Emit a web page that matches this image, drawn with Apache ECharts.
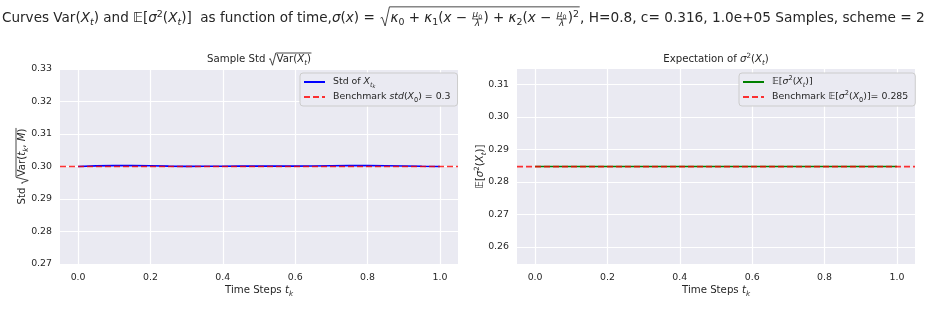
<!DOCTYPE html>
<html><head><meta charset="utf-8">
<script src="https://cdn.jsdelivr.net/npm/echarts@6/dist/echarts.min.js"></script>
<style>html,body{margin:0;padding:0;background:#fff}#c{width:927px;height:309px}</style>
</head><body><div id="c"></div>
<script>
// ---------------- data ----------------
const timeSteps = [0.00,0.05,0.10,0.15,0.20,0.25,0.30,0.35,0.40,0.45,0.50,0.55,0.60,0.65,0.70,0.75,0.80,0.85,0.90,0.95,1.00];
const stdValues = [0.30000,0.30018,0.30028,0.30030,0.30022,0.30012,0.30004,0.30006,0.30010,0.30012,0.30012,0.30011,0.30012,0.30016,0.30022,0.30028,0.30030,0.30024,0.30014,0.30006,0.30000];
const expValues = [0.28468,0.28468,0.28469,0.28469,0.28468,0.28468,0.28468,0.28468,0.28468,0.28469,0.28469,0.28468,0.28468,0.28468,0.28469,0.28469,0.28469,0.28468,0.28468,0.28468,0.28468];
const benchStd = [0.3];
const benchExp = [0.28468];
const xLimits = [-0.05, 1.05];
const xTicks = [0.0, 0.2, 0.4, 0.6, 0.8, 1.0];
const yLimitsLeft = [0.27, 0.33];
const yTicksLeft = [0.27, 0.28, 0.29, 0.30, 0.31, 0.32, 0.33];
const yLimitsRight = [0.2547, 0.3147];
const yTicksRight = [0.26, 0.27, 0.28, 0.29, 0.30, 0.31];
const legendLeft = ['Std of X_tk', 'Benchmark std(X0) = 0.3'];
const legendRight = ['E[sigma2(Xt)]', 'Benchmark E[sigma2(X0)]= 0.285'];

// ---------------- styling helpers ----------------
const TXT = '#262626';
const FAM = '"DejaVu Sans", sans-serif';
const mctx = document.createElement('canvas').getContext('2d');
function fontOf(size, it) { return (it ? 'italic ' : '') + size.toFixed(2) + 'px ' + FAM; }
function measure(t, size, it) { mctx.font = fontOf(size, it); return mctx.measureText(t).width; }
const I = (t) => ({t: t, it: true});
const sub = (t, it) => ({t: t, it: !!it, sc: 0.7, dy: -0.22});
const sup = (t, it) => ({t: t, it: !!it, sc: 0.7, dy: 0.4});

function lay(tokens, S, x0, base, out) {
  let x = x0;
  tokens.forEach(raw => {
    const tk = typeof raw === 'string' ? {t: raw} : raw;
    if (tk.frac) {
      const fs = S * 0.66;
      const nw = lay(tk.frac[0], fs, 0, 0, []);
      const dw = lay(tk.frac[1], fs, 0, 0, []);
      const fw = Math.max(nw, dw) + S * 0.2;
      const axisY = base - 0.3 * S;
      lay(tk.frac[0], fs, x + (fw - nw) / 2, axisY - 0.12 * S, out);
      lay(tk.frac[1], fs, x + (fw - dw) / 2, axisY + 0.12 * S + 0.72 * fs, out);
      out.push({type: 'line', silent: true, shape: {x1: x + S * 0.08, y1: axisY, x2: x + fw - S * 0.08, y2: axisY},
        style: {stroke: TXT, lineWidth: 0.7}});
      x += fw;
    } else if (tk.sqrt) {
      const hasFrac = tk.sqrt.some(t => t && t.frac);
      const top = base - (hasFrac ? 1.2 : 0.98) * S;
      const bot = base + 0.22 * S;
      const rw = 0.78 * S;
      const cw = lay(tk.sqrt, S, x + rw, base, out);
      out.push({type: 'polyline', silent: true, shape: {points: [
          [x + 0.04 * S, base - 0.36 * S], [x + 0.16 * S, base - 0.42 * S], [x + 0.38 * S, bot],
          [x + 0.7 * S, top], [x + rw + cw + 0.05 * S, top]]},
        style: {stroke: TXT, lineWidth: 0.85, fill: null}});
      x += rw + cw;
    } else {
      const sz = S * (tk.sc || 1);
      const b = base - (tk.dy || 0) * S;
      out.push({type: 'text', silent: true, x: x, y: b - 0.32 * sz,
        style: {text: tk.t, font: fontOf(sz, tk.it), fill: TXT, align: 'left', verticalAlign: 'middle',
                textAlign: 'left', textVerticalAlign: 'middle'}});
      x += measure(tk.t, sz, tk.it);
    }
  });
  return x - x0;
}
function textGroup(tokens, S, cx, baseY, rotate) {
  const kids = [];
  const w = lay(tokens, S, 0, 0, []);
  lay(tokens, S, -w / 2, 0, kids);
  return {type: 'group', x: cx, y: baseY, rotation: rotate ? Math.PI / 2 : 0, children: kids, silent: true};
}
// lay a run of tokens so that it fills [x0, x1]
function fitGroup(tokens, x0, x1, baseY) {
  const S = 12 * (x1 - x0) / lay(tokens, 12, 0, 0, []);
  const kids = [];
  lay(tokens, S, 0, 0, kids);
  return {type: 'group', x: x0, y: baseY, children: kids, silent: true};
}

const fracMu = {frac: [[I('μ'), sub('0')], [I('λ')]]};
const titleHead = ['Curves Var(', I('X'), sub('t', true), ') and ', '𝔼', '[', I('σ'), sup('2'), '(', I('X'), sub('t', true),
  ')]  as function of time,', I('σ'), '(', I('x'), ') = '];
const titleRoot = [{sqrt: [I('κ'), sub('0'), ' + ', I('κ'), sub('1'), '(', I('x'), ' − ', fracMu, ') + ', I('κ'), sub('2'), '(', I('x'), ' − ', fracMu, ')', sup('2')]}];
const titleTail = [', H=0.8, c= 0.316, 1.0e+05 Samples, scheme = 2'];
const leftTitle = ['Sample Std ', {sqrt: ['Var(', I('X'), sub('t', true), ')']}];
const rightTitle = ['Expectation of ', I('σ'), sup('2'), '(', I('X'), sub('t', true), ')'];
const leftYName = ['Std ', {sqrt: ['Var(', I('t'), sub('k', true), ', ', I('M'), ')']}];
const rightYName = ['𝔼', '[', I('σ'), sup('2'), '(', I('X'), sub('t', true), ')]'];
const xName = ['Time Steps ', I('t'), sub('k', true)];

const LBL = 9.4, TTL = 10.2;
const legendRich = {
  i: {fontStyle: 'italic', fontSize: LBL, lineHeight: 14, color: TXT, fontFamily: FAM},
  sbi: {fontStyle: 'italic', fontSize: 6.6, lineHeight: 7, verticalAlign: 'bottom', color: TXT, fontFamily: FAM},
  sbu: {fontSize: 6.6, lineHeight: 7, verticalAlign: 'bottom', color: TXT, fontFamily: FAM},
  ssb: {fontStyle: 'italic', fontSize: 5, lineHeight: 4, verticalAlign: 'bottom', color: TXT, fontFamily: FAM},
  sp: {fontSize: 6.6, lineHeight: 8, verticalAlign: 'top', color: TXT, fontFamily: FAM}
};
const legendText = {};
legendText[legendLeft[0]] = 'Std of {i|X}{sbi|t}{ssb|k}';
legendText[legendLeft[1]] = 'Benchmark {i|std}({i|X}{sbu|0}) = 0.3';
legendText[legendRight[0]] = '𝔼[{i|σ}{sp|2}({i|X}{sbi|t})]';
legendText[legendRight[1]] = 'Benchmark 𝔼[{i|σ}{sp|2}({i|X}{sbu|0})]= 0.285';

function xAxisCfg(gi) {
  return {gridIndex: gi, type: 'value', min: xLimits[0], max: xLimits[1],
    axisLine: {show: false}, axisTick: {show: false, customValues: xTicks},
    axisLabel: {customValues: xTicks, formatter: v => v.toFixed(1), color: TXT, fontSize: LBL, fontFamily: FAM, margin: 9},
    splitLine: {show: true, lineStyle: {color: '#ffffff', width: 1.2}}};
}
function yAxisCfg(gi, lim, ticks) {
  return {gridIndex: gi, type: 'value', min: lim[0], max: lim[1],
    axisLine: {show: false}, axisTick: {show: false, customValues: ticks},
    axisLabel: {customValues: ticks, formatter: v => v.toFixed(2), color: TXT, fontSize: LBL, fontFamily: FAM, margin: 8},
    splitLine: {show: true, lineStyle: {color: '#ffffff', width: 1.2}}};
}
function legendCfg(left, names) {
  return {show: true, orient: 'vertical', left: left, top: 73, data: names,
    formatter: n => legendText[n], itemWidth: 21, itemHeight: 10, itemGap: 1,
    itemStyle: {opacity: 0},
    padding: [2, 7, 2, 3], backgroundColor: '#EAEAF2', borderColor: '#CCCCCC', borderWidth: 1, borderRadius: 3,
    textStyle: {color: TXT, fontSize: LBL, fontFamily: FAM, lineHeight: 14, padding: [0, 0, 0, 3], rich: legendRich}};
}

const chart = echarts.init(document.getElementById('c'), null, {renderer: 'canvas'});
chart.setOption({
  animation: false,
  backgroundColor: '#ffffff',
  grid: [
    {left: 60, top: 69, width: 398, height: 195, show: true, backgroundColor: '#EAEAF2', borderWidth: 0},
    {left: 517, top: 69, width: 398, height: 195, show: true, backgroundColor: '#EAEAF2', borderWidth: 0}
  ],
  xAxis: [xAxisCfg(0), xAxisCfg(1)],
  yAxis: [yAxisCfg(0, yLimitsLeft, yTicksLeft), yAxisCfg(1, yLimitsRight, yTicksRight)],
  legend: [legendCfg(300, legendLeft), legendCfg(739, legendRight)],
  series: [
    {name: legendLeft[0], type: 'line', xAxisIndex: 0, yAxisIndex: 0, symbol: 'none', smooth: false,
      data: timeSteps.map((t, i) => [t, stdValues[i]]), lineStyle: {color: '#0000ff', width: 1.6}, itemStyle: {color: '#0000ff'}},
    {name: legendLeft[1], type: 'line', xAxisIndex: 0, yAxisIndex: 0, symbol: 'none',
      data: xLimits.map(x => [x, benchStd[0]]), lineStyle: {color: '#ff0000', width: 1.7, type: [6, 3], opacity: 0.8}, itemStyle: {color: '#ff0000'}},
    {name: legendRight[0], type: 'line', xAxisIndex: 1, yAxisIndex: 1, symbol: 'none',
      data: timeSteps.map((t, i) => [t, expValues[i]]), lineStyle: {color: '#008000', width: 1.6}, itemStyle: {color: '#008000'}},
    {name: legendRight[1], type: 'line', xAxisIndex: 1, yAxisIndex: 1, symbol: 'none',
      data: xLimits.map(x => [x, benchExp[0]]), lineStyle: {color: '#ff0000', width: 1.7, type: [6, 3], opacity: 0.8}, itemStyle: {color: '#ff0000'}}
  ],
  graphic: [
    fitGroup(titleHead, 2, 379, 23),
    fitGroup(titleRoot, 380, 579, 23),
    fitGroup(titleTail, 580, 925, 23),
    textGroup(leftTitle, TTL, 259, 63, false),
    textGroup(rightTitle, TTL, 716, 63, false),
    textGroup(xName, TTL, 259, 294, false),
    textGroup(xName, TTL, 716, 294, false),
    textGroup(leftYName, TTL, 26, 166.5, true),
    textGroup(rightYName, TTL, 484, 166.5, true)
  ]
});
</script></body></html>
